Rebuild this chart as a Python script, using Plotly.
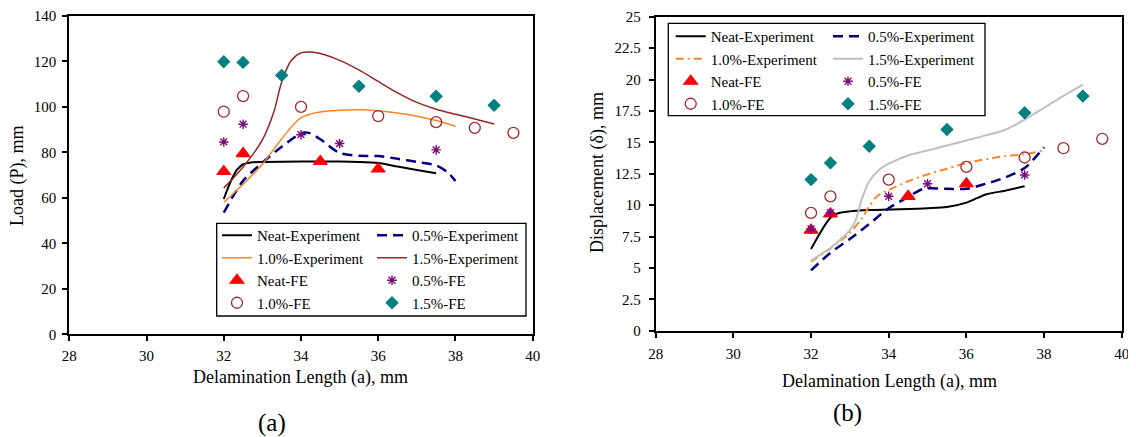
import plotly.graph_objects as go

# ---------------- data: chart (a) Load vs delamination length ----------------
a_neat_exp_x = [32, 32.1, 32.2, 32.35, 32.5, 32.7, 33, 34, 35, 35.5, 36, 36.5, 37, 37.5]
a_neat_exp_y = [59.5, 64, 68, 72.5, 74.8, 75.6, 75.8, 76, 76, 75.8, 75.3, 73.8, 72.3, 70.8]
a_05_exp_x = [32, 32.25, 32.5, 33, 33.5, 34, 34.2, 34.5, 35, 35.5, 36, 36.5, 37, 37.5, 37.8, 38]
a_05_exp_y = [53.5, 61, 67.5, 75.5, 82.5, 88.3, 88.6, 85.8, 79.8, 78.5, 78.4, 77.2, 75.8, 74.3, 71.2, 67.4]
a_10_exp_x = [32, 32.5, 33, 33.5, 34, 34.5, 35, 35.5, 36, 36.5, 37, 37.5, 38]
a_10_exp_y = [58, 66, 74.8, 86, 95.3, 97.8, 98.6, 98.8, 98.3, 97.3, 95.9, 94.0, 91.5]
a_15_exp_x = [32, 32.5, 33, 33.3, 33.5, 33.75, 34, 34.25, 34.5, 35, 35.5, 36, 36.5, 37, 37.5, 38, 38.5, 39]
a_15_exp_y = [64.3, 73.6, 85.5, 98, 111, 120.5, 123.8, 124.2, 123.5, 120.5, 116.3, 111.2, 106.2, 102.0, 99.0, 96.8, 94.7, 92.5]

a_neat_fe_x = [32, 32.5, 34.5, 36]
a_neat_fe_y = [71.6, 79.5, 76.0, 72.7]
a_05_fe_x = [32, 32.5, 34, 35, 37.5]
a_05_fe_y = [84.6, 92.4, 87.8, 83.9, 81.1]
a_10_fe_x = [32, 32.5, 34, 36, 37.5, 38.5, 39.5]
a_10_fe_y = [97.9, 104.8, 100.0, 96.0, 93.3, 90.8, 88.6]
a_15_fe_x = [32, 32.5, 33.5, 35.5, 37.5, 39]
a_15_fe_y = [119.9, 119.6, 113.9, 109.1, 104.7, 100.7]

# ---------------- data: chart (b) Displacement vs delamination length ----------------
b_neat_exp_x = [32, 32.2, 32.4, 32.5, 32.7, 33, 33.5, 34, 35, 35.5, 36, 36.5, 37, 37.5]
b_neat_exp_y = [6.5, 7.6, 8.6, 9.0, 9.35, 9.5, 9.6, 9.65, 9.75, 9.85, 10.2, 10.85, 11.15, 11.5]
b_05_exp_x = [32, 32.5, 33, 33.5, 34, 34.5, 34.9, 35.5, 36, 36.5, 37, 37.5, 38]
b_05_exp_y = [4.8, 6.2, 7.3, 8.5, 9.75, 10.65, 11.3, 11.3, 11.3, 11.7, 12.2, 12.95, 14.6]
b_10_exp_x = [32, 32.5, 33, 33.3, 33.5, 33.7, 34, 34.5, 35, 35.5, 36, 36.5, 37, 37.5, 38]
b_10_exp_y = [5.5, 6.55, 7.8, 8.9, 9.9, 10.7, 11.2, 11.9, 12.45, 12.9, 13.35, 13.65, 13.9, 14.05, 14.35]
b_15_exp_x = [32, 32.5, 33, 33.15, 33.3, 33.5, 33.75, 34, 34.5, 35, 35.5, 36, 36.5, 37, 37.5, 38, 38.5, 39]
b_15_exp_y = [5.6, 6.6, 8.0, 8.8, 10.4, 11.9, 12.8, 13.3, 13.95, 14.35, 14.75, 15.15, 15.55, 16.0, 16.8, 17.75, 18.7, 19.6]

b_neat_fe_x = [32, 32.5, 34.5, 36]
b_neat_fe_y = [8.0, 9.3, 10.7, 11.7]
b_05_fe_x = [32, 32.5, 34, 35, 37.5]
b_05_fe_y = [8.1, 9.4, 10.7, 11.7, 12.4]
b_10_fe_x = [32, 32.5, 34, 36, 37.5, 38.5, 39.5]
b_10_fe_y = [9.38, 10.7, 12.03, 13.04, 13.79, 14.53, 15.28]
b_15_fe_x = [32, 32.5, 33.5, 35.5, 37.5, 39]
b_15_fe_y = [12.03, 13.36, 14.69, 16.02, 17.35, 18.68]

x_ticks = [28, 30, 32, 34, 36, 38, 40]
a_y_ticks = [0, 20, 40, 60, 80, 100, 120, 140]
b_y_ticks = [0, 2.5, 5, 7.5, 10, 12.5, 15, 17.5, 20, 22.5, 25]
b_y_ticktext = ["0", "2.5", "5", "7.5", "10", "12.5", "15", "17.5", "20", "22.5", "25"]

# page body has an 8px margin; figure fills the rest of the 1136x437 window
OFF = 8
W, H = 1136 - OFF, 437 - OFF
FONT = "Liberation Serif"

fig = go.Figure()

def line(x, y, name, color, width, dash, xa, ya, leg):
    fig.add_trace(go.Scatter(x=x, y=y, name=name, mode="lines", xaxis=xa, yaxis=ya,
                             line=dict(color=color, width=width, dash=dash, shape="spline", smoothing=0.8),
                             legend=leg))

def pts(x, y, name, symbol, color, size, xa, ya, leg, lw=1.2, lc=None):
    fig.add_trace(go.Scatter(x=x, y=y, name=name, mode="markers", xaxis=xa, yaxis=ya,
                             marker=dict(symbol=symbol, color=color, size=size,
                                         line=dict(color=lc or color, width=lw)),
                             legend=leg))

RED = "#FF0000"
PURPLE = "#7A0C7A"
CIRC = "#9E2A2B"
TEAL = "#008080"
NAVY = "#00007F"
ORANGE = "#F7862A"
DRED = "#952525"
GRAY = "#C0C0C0"

# chart (a)
line(a_neat_exp_x, a_neat_exp_y, "Neat-Experiment", "#000000", 2, "solid", "x", "y", "legend")
line(a_05_exp_x, a_05_exp_y, "0.5%-Experiment", NAVY, 2.5, "10px,6px", "x", "y", "legend2")
line(a_10_exp_x, a_10_exp_y, "1.0%-Experiment", ORANGE, 1.5, "solid", "x", "y", "legend")
line(a_15_exp_x, a_15_exp_y, "1.5%-Experiment", DRED, 1.5, "solid", "x", "y", "legend2")
pts(a_neat_fe_x, a_neat_fe_y, "Neat-FE", "triangle-up", RED, 12, "x", "y", "legend")
pts(a_05_fe_x, a_05_fe_y, "0.5%-FE", "asterisk-open", PURPLE, 8, "x", "y", "legend2", lw=1.4)
pts(a_10_fe_x, a_10_fe_y, "1.0%-FE", "circle-open", CIRC, 11, "x", "y", "legend", lw=1.3)
pts(a_15_fe_x, a_15_fe_y, "1.5%-FE", "diamond", TEAL, 9, "x", "y", "legend2")

# chart (b)
line(b_neat_exp_x, b_neat_exp_y, "Neat-Experiment", "#000000", 2, "solid", "x2", "y2", "legend3")
line(b_05_exp_x, b_05_exp_y, "0.5%-Experiment", NAVY, 2.5, "10px,6px", "x2", "y2", "legend4")
line(b_10_exp_x, b_10_exp_y, "1.0%-Experiment", ORANGE, 2, "8px,4px,2px,4px", "x2", "y2", "legend3")
line(b_15_exp_x, b_15_exp_y, "1.5%-Experiment", GRAY, 2, "solid", "x2", "y2", "legend4")
pts(b_neat_fe_x, b_neat_fe_y, "Neat-FE", "triangle-up", RED, 12, "x2", "y2", "legend3")
pts(b_05_fe_x, b_05_fe_y, "0.5%-FE", "asterisk-open", PURPLE, 8, "x2", "y2", "legend4", lw=1.4)
pts(b_10_fe_x, b_10_fe_y, "1.0%-FE", "circle-open", CIRC, 11, "x2", "y2", "legend3", lw=1.3)
pts(b_15_fe_x, b_15_fe_y, "1.5%-FE", "diamond", TEAL, 9, "x2", "y2", "legend4")

def px(v):
    return (v - OFF) / W

def py(v):
    return 1 - (v - OFF) / H

axis_common = dict(showgrid=False, zeroline=False, showline=True, linecolor="#000000", linewidth=2,
                   mirror=True, ticks="outside", ticklen=5, tickwidth=1.5, tickcolor="#000000",
                   automargin=False,
                   tickfont=dict(family=FONT, size=15, color="#000000"))

leg_common = dict(bgcolor="rgba(0,0,0,0)", borderwidth=0, xanchor="left", yanchor="top",
                  font=dict(family=FONT, size=15, color="#000000"), itemwidth=30,
                  orientation="v", tracegroupgap=0, itemclick=False)

fig.update_layout(
    width=W, height=H, margin=dict(l=0, r=0, t=0, b=0, autoexpand=False),
    paper_bgcolor="white", plot_bgcolor="white",
    font=dict(family=FONT, size=15, color="#000000"),
    showlegend=True,
    xaxis=dict(domain=[px(69.3), px(532.7)], range=[28, 40], tickvals=x_ticks, anchor="y",
               ticklabelstandoff=2, **axis_common),
    yaxis=dict(domain=[py(334.3), py(16)], range=[0, 140], tickvals=a_y_ticks, anchor="x",
               ticklabelstandoff=3, **axis_common),
    xaxis2=dict(domain=[px(655.7), px(1121.7)], range=[28, 40], tickvals=x_ticks, anchor="y2",
                ticklabelstandoff=3, **axis_common),
    yaxis2=dict(domain=[py(330.7), py(16.7)], range=[0, 25], tickvals=b_y_ticks, ticktext=b_y_ticktext,
                anchor="x2", ticklabelstandoff=5, **axis_common),
    legend=dict(x=px(217), y=py(219), **leg_common),
    legend2=dict(x=px(372), y=py(219), **leg_common),
    legend3=dict(x=px(670.7), y=py(20), **leg_common),
    legend4=dict(x=px(828), y=py(20), **leg_common),
    shapes=[
        dict(type="rect", xref="paper", yref="paper", x0=px(216.7), x1=px(526), y0=py(316), y1=py(223.3),
             line=dict(color="#000000", width=1.3)),
        dict(type="rect", xref="paper", yref="paper", x0=px(668.3), x1=px(985), y0=py(115.7), y1=py(23.3),
             line=dict(color="#000000", width=1.3)),
    ],
    annotations=[
        dict(text="Delamination Length (a), mm", x=px(301), y=py(377), xref="paper", yref="paper",
             showarrow=False, xanchor="center", yanchor="middle", font=dict(family=FONT, size=18)),
        dict(text="Delamination Length (a), mm", x=px(889), y=py(381), xref="paper", yref="paper",
             showarrow=False, xanchor="center", yanchor="middle", font=dict(family=FONT, size=18)),
        dict(text="Load (P), mm", x=px(17), y=py(176), xref="paper", yref="paper", textangle=-90,
             showarrow=False, xanchor="center", yanchor="middle", font=dict(family=FONT, size=18)),
        dict(text="Displacement (δ), mm", x=px(598), y=py(173), xref="paper", yref="paper", textangle=-90,
             showarrow=False, xanchor="center", yanchor="middle", font=dict(family=FONT, size=18)),
        dict(text="(a)", x=px(272), y=py(423), xref="paper", yref="paper",
             showarrow=False, xanchor="center", yanchor="middle", font=dict(family=FONT, size=25)),
        dict(text="(b)", x=px(847), y=py(413), xref="paper", yref="paper",
             showarrow=False, xanchor="center", yanchor="middle", font=dict(family=FONT, size=25)),
    ],
)

fig.write_html("out.html")
